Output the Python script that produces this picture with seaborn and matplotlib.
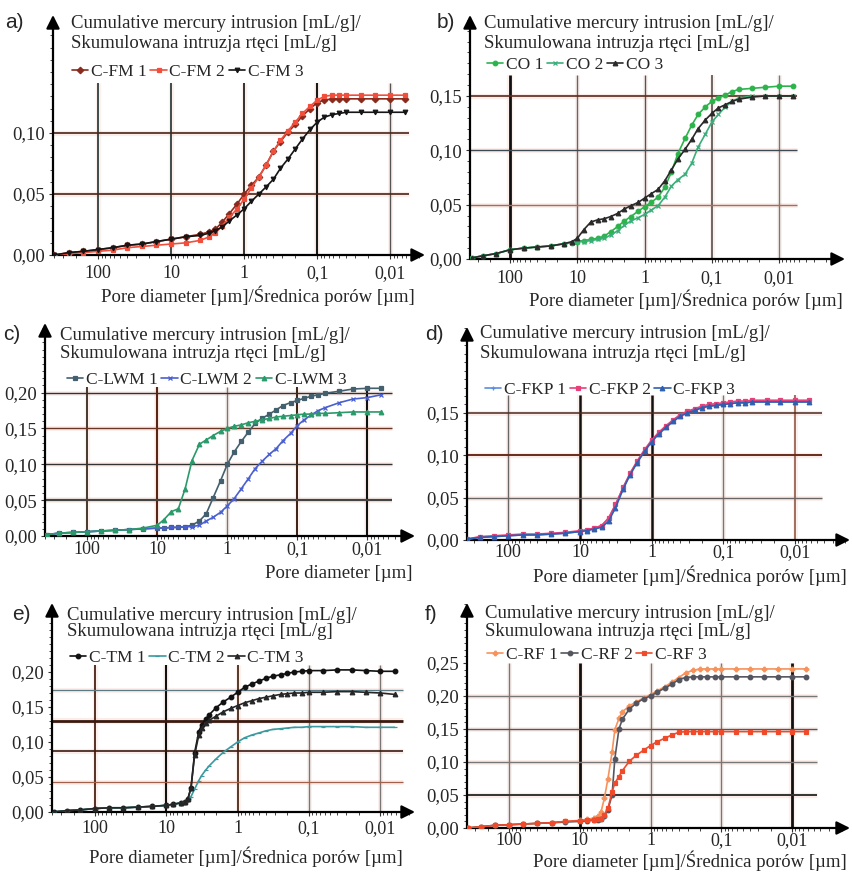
import matplotlib
matplotlib.use("Agg")
import matplotlib.pyplot as plt
import seaborn as sns
from matplotlib.ticker import LogLocator, NullFormatter, MultipleLocator

# ---- data (pore diameter in um, cumulative intrusion in mL/g) ----
d_a = [400, 250, 160, 100, 63, 40, 25, 16, 10, 6.3, 4, 3, 2.5, 2, 1.6, 1.25, 1, 0.8, 0.63, 0.5,
       0.4, 0.32, 0.25, 0.2, 0.16, 0.125, 0.1, 0.08, 0.063, 0.05, 0.04, 0.025, 0.016, 0.01, 0.0063]
fm1 = [0.000, 0.002, 0.003, 0.0045, 0.006, 0.008, 0.009, 0.011, 0.013, 0.015, 0.017, 0.019, 0.021, 0.027,
       0.034, 0.042, 0.050, 0.057, 0.064, 0.074, 0.085, 0.093, 0.101, 0.107, 0.114, 0.120, 0.125, 0.127,
       0.128, 0.128, 0.128, 0.128, 0.128, 0.128, 0.128]
fm2 = [0.000, 0.001, 0.002, 0.003, 0.004, 0.006, 0.007, 0.008, 0.009, 0.010, 0.012, 0.015, 0.018, 0.024,
       0.031, 0.038, 0.046, 0.055, 0.064, 0.074, 0.085, 0.094, 0.102, 0.109, 0.116, 0.122, 0.127, 0.130,
       0.131, 0.131, 0.131, 0.131, 0.131, 0.131, 0.131]
fm3 = [0.000, 0.002, 0.003, 0.0045, 0.006, 0.008, 0.009, 0.011, 0.013, 0.015, 0.016, 0.018, 0.020, 0.023,
       0.028, 0.033, 0.038, 0.044, 0.050, 0.056, 0.062, 0.071, 0.079, 0.087, 0.095, 0.103, 0.109, 0.113,
       0.115, 0.116, 0.117, 0.117, 0.117, 0.117, 0.117]

d_b = [370, 250, 160, 100, 63, 40, 25, 16, 12, 10, 8, 6.3, 5, 4, 3.2, 2.5, 2, 1.6, 1.25, 1, 0.8, 0.63,
       0.5, 0.4, 0.32, 0.25, 0.2, 0.16, 0.125, 0.1, 0.08, 0.063, 0.05, 0.04, 0.025, 0.016, 0.01, 0.0063]
co1 = [0.001, 0.003, 0.005, 0.0085, 0.010, 0.011, 0.012, 0.014, 0.015, 0.016, 0.017, 0.018, 0.019, 0.021,
       0.025, 0.030, 0.035, 0.039, 0.044, 0.048, 0.052, 0.057, 0.066, 0.080, 0.097, 0.111, 0.123, 0.133,
       0.140, 0.145, 0.148, 0.151, 0.154, 0.156, 0.157, 0.158, 0.159, 0.159]
co2 = [0.001, 0.003, 0.005, 0.0085, 0.010, 0.011, 0.012, 0.014, 0.015, 0.016, 0.016, 0.017, 0.018, 0.019,
       0.022, 0.026, 0.031, 0.035, 0.038, 0.041, 0.045, 0.049, 0.057, 0.067, 0.073, 0.078, 0.088, 0.103,
       0.115, 0.126, 0.133, 0.140, 0.145, 0.148, 0.150, 0.150, 0.150, 0.150]
co3 = [0.001, 0.003, 0.005, 0.0085, 0.010, 0.011, 0.012, 0.014, 0.016, 0.019, 0.027, 0.034, 0.036, 0.037,
       0.039, 0.042, 0.046, 0.049, 0.052, 0.056, 0.060, 0.064, 0.072, 0.082, 0.092, 0.101, 0.110, 0.120,
       0.128, 0.134, 0.139, 0.142, 0.145, 0.147, 0.149, 0.150, 0.150, 0.150]

d_c = [380, 250, 160, 100, 63, 40, 25, 16, 10, 8, 6.3, 5, 4, 3.2, 2.5, 2, 1.6, 1.25, 1, 0.8, 0.63, 0.5,
       0.4, 0.32, 0.25, 0.2, 0.16, 0.125, 0.1, 0.08, 0.063, 0.05, 0.04, 0.025, 0.016, 0.01, 0.0063]
lwm1 = [0.002, 0.004, 0.005, 0.006, 0.007, 0.008, 0.009, 0.010, 0.011, 0.011, 0.012, 0.012, 0.013, 0.015,
        0.021, 0.031, 0.053, 0.077, 0.100, 0.117, 0.132, 0.145, 0.157, 0.164, 0.170, 0.176, 0.182, 0.186,
        0.189, 0.192, 0.195, 0.197, 0.199, 0.202, 0.205, 0.206, 0.206]
lwm2 = [0.002, 0.004, 0.005, 0.006, 0.007, 0.008, 0.009, 0.010, 0.011, 0.011, 0.012, 0.012, 0.013, 0.013,
        0.015, 0.021, 0.026, 0.033, 0.042, 0.052, 0.066, 0.080, 0.094, 0.104, 0.114, 0.122, 0.133, 0.143,
        0.154, 0.162, 0.169, 0.175, 0.179, 0.186, 0.191, 0.193, 0.197]
lwm3 = [0.002, 0.004, 0.005, 0.006, 0.007, 0.008, 0.009, 0.011, 0.015, 0.023, 0.034, 0.038, 0.066, 0.105,
        0.128, 0.134, 0.140, 0.146, 0.150, 0.153, 0.155, 0.158, 0.160, 0.162, 0.164, 0.166, 0.167, 0.168,
        0.169, 0.170, 0.170, 0.171, 0.171, 0.172, 0.173, 0.173, 0.173]

d_d = d_c
fkp1 = [0.001, 0.003, 0.004, 0.005, 0.006, 0.006, 0.007, 0.008, 0.010, 0.012, 0.014, 0.017, 0.025, 0.041,
        0.062, 0.078, 0.092, 0.106, 0.117, 0.126, 0.134, 0.141, 0.147, 0.151, 0.154, 0.156, 0.158, 0.159,
        0.160, 0.161, 0.162, 0.162, 0.163, 0.163, 0.163, 0.163, 0.163]
fkp2 = [0.001, 0.004, 0.005, 0.006, 0.007, 0.007, 0.008, 0.009, 0.011, 0.012, 0.014, 0.017, 0.026, 0.042,
        0.062, 0.079, 0.093, 0.107, 0.118, 0.127, 0.135, 0.142, 0.148, 0.152, 0.155, 0.158, 0.160, 0.161,
        0.162, 0.163, 0.164, 0.164, 0.165, 0.165, 0.165, 0.165, 0.165]
fkp3 = [0.001, 0.003, 0.004, 0.005, 0.006, 0.006, 0.007, 0.008, 0.010, 0.011, 0.013, 0.015, 0.022, 0.038,
        0.060, 0.077, 0.091, 0.105, 0.116, 0.125, 0.133, 0.140, 0.146, 0.150, 0.153, 0.156, 0.158, 0.159,
        0.160, 0.161, 0.162, 0.162, 0.163, 0.163, 0.163, 0.163, 0.163]

d_e = [380, 250, 160, 100, 63, 40, 25, 16, 10, 8, 6.3, 5.5, 5, 4.5, 4, 3.5, 3.2, 2.8, 2.5, 2, 1.6, 1.25,
       1, 0.8, 0.63, 0.5, 0.4, 0.32, 0.25, 0.2, 0.16, 0.125, 0.1, 0.063, 0.04, 0.025, 0.016, 0.01, 0.0063]
tm1 = [0.000, 0.002, 0.003, 0.005, 0.006, 0.006, 0.007, 0.008, 0.0095, 0.011, 0.013, 0.015, 0.018, 0.035,
       0.085, 0.115, 0.124, 0.133, 0.139, 0.149, 0.157, 0.164, 0.171, 0.178, 0.183, 0.187, 0.191, 0.194,
       0.196, 0.198, 0.200, 0.201, 0.202, 0.202, 0.203, 0.203, 0.202, 0.201, 0.201]
tm2 = [0.000, 0.002, 0.003, 0.005, 0.006, 0.006, 0.007, 0.008, 0.0095, 0.011, 0.013, 0.015, 0.017, 0.022,
       0.033, 0.045, 0.052, 0.060, 0.066, 0.076, 0.085, 0.093, 0.100, 0.106, 0.110, 0.113, 0.116, 0.118,
       0.119, 0.120, 0.121, 0.121, 0.122, 0.122, 0.122, 0.122, 0.121, 0.121, 0.121]
tm3 = [0.000, 0.002, 0.003, 0.005, 0.006, 0.006, 0.007, 0.008, 0.0095, 0.011, 0.013, 0.015, 0.018, 0.035,
       0.082, 0.110, 0.120, 0.127, 0.131, 0.137, 0.143, 0.148, 0.152, 0.156, 0.159, 0.162, 0.164, 0.166,
       0.168, 0.169, 0.170, 0.170, 0.171, 0.171, 0.172, 0.172, 0.171, 0.170, 0.168]

d_f = d_e
rf1 = [0.000, 0.002, 0.004, 0.005, 0.006, 0.007, 0.008, 0.010, 0.0115, 0.013, 0.015, 0.018, 0.025, 0.045,
       0.075, 0.115, 0.149, 0.166, 0.176, 0.185, 0.191, 0.197, 0.202, 0.208, 0.214, 0.221, 0.228, 0.235,
       0.239, 0.241, 0.241, 0.241, 0.241, 0.241, 0.241, 0.241, 0.241, 0.241, 0.241]
rf2 = [0.000, 0.002, 0.004, 0.005, 0.006, 0.007, 0.008, 0.009, 0.010, 0.011, 0.012, 0.012, 0.013, 0.018,
       0.028, 0.050, 0.105, 0.150, 0.165, 0.180, 0.189, 0.196, 0.200, 0.206, 0.212, 0.218, 0.225, 0.228,
       0.229, 0.229, 0.229, 0.229, 0.229, 0.229, 0.229, 0.229, 0.229, 0.229, 0.229]
rf3 = [0.000, 0.002, 0.004, 0.005, 0.006, 0.007, 0.008, 0.010, 0.011, 0.012, 0.012, 0.013, 0.013, 0.020,
       0.030, 0.055, 0.068, 0.078, 0.087, 0.101, 0.110, 0.118, 0.125, 0.131, 0.136, 0.141, 0.145, 0.146,
       0.146, 0.146, 0.146, 0.146, 0.146, 0.146, 0.146, 0.146, 0.146, 0.146, 0.146]

decades = [100, 10, 1, 0.1, 0.01]
decade_labels = ["100", "10", "1", "0,1", "0,01"]
ylab1 = "Cumulative mercury intrusion [mL/g]/"
ylab2 = "Skumulowana intruzja rtęci [mL/g]"
xlab_full = "Pore diameter [µm]/Średnica porów [µm]"
xlab_short = "Pore diameter [µm]"

sns.set_style("white")
plt.rcParams["font.family"] = ["Liberation Serif", "DejaVu Serif"]

W, H = 853, 873
fig = plt.figure(figsize=(W / 100, H / 100), dpi=100)


def px_axes(x0, y0, x1, y1, x100, dec, ppu):
    ax = fig.add_axes([x0 / W, 1 - y0 / H, (x1 - x0) / W, (y0 - y1) / H])
    ax.set_xscale("log")
    ax.set_xlim(10 ** (2 + (x100 - x0) / dec), 10 ** (2 - (x1 - x100) / dec))
    ax.set_ylim(0, (y0 - y1) / ppu)
    ax.patch.set_alpha(0)
    for s in ax.spines.values():
        s.set_visible(False)
    arrow = dict(arrowstyle="-|>", color="k", lw=1.6, mutation_scale=20, shrinkA=0, shrinkB=0)
    ax.annotate("", xy=(1, 0), xytext=(0, 0), xycoords="axes fraction", arrowprops=arrow)
    ax.annotate("", xy=(0, 1), xytext=(0, 0), xycoords="axes fraction", arrowprops=arrow)
    return ax


def panel(ax, d, series, names, colors, markers, yticks, vgrid, hgrid, grid_end, vtop, xpad):
    x_left = ax.get_xlim()[0]
    for (v, c, lw) in vgrid:
        ax.vlines(v, 0, vtop, color="#f3b9a8", lw=lw + 2.5, alpha=0.2, zorder=1)
        ax.vlines(v, 0, vtop, color=c, lw=lw, zorder=1.5)
    for (v, c, lw) in hgrid:
        ax.hlines(v, x_left, grid_end, color="#f3b9a8", lw=lw + 2.5, alpha=0.25, zorder=1)
        ax.hlines(v, x_left, grid_end, color=c, lw=lw, zorder=1.5)
    for vals, name, c, m in zip(series, names, colors, markers):
        sns.lineplot(x=d, y=vals, ax=ax, color=c, marker=m, markersize=3.3, linewidth=1.2,
                     markeredgecolor=c, markeredgewidth=0.9, label=name, zorder=3)
    ax.set_xticks(decades)
    ax.set_xticklabels(decade_labels)
    ax.xaxis.set_minor_locator(LogLocator(base=10, subs=range(2, 10), numticks=20))
    ax.xaxis.set_minor_formatter(NullFormatter())
    ax.set_yticks(yticks)
    ax.set_yticklabels([f"{t:.2f}".replace(".", ",") for t in yticks])
    ax.yaxis.set_minor_locator(MultipleLocator(0.01))
    ax.tick_params(axis="both", which="major", length=3, width=0.8, color="#333")
    ax.tick_params(axis="both", which="minor", length=2.5, width=0.7, color="#444")
    ax.tick_params(axis="x", which="both", bottom=True, pad=xpad, labelsize=13)
    ax.tick_params(axis="y", which="both", left=True, pad=3, labelsize=13.5)
    ax.set_xlabel("")
    ax.set_ylabel("")


def legend(ax, x, y):
    ax.legend(loc="center left", bbox_to_anchor=(x / W, 1 - y / H), bbox_transform=fig.transFigure,
              ncol=3, frameon=False, fontsize=12.5, handlelength=0.95, handletextpad=0.15,
              columnspacing=0.2, borderaxespad=0, borderpad=0)


def texts(letter, lx, ly, tx, ty1, ty2, xlab, xx, xy):
    fig.text(lx / W, 1 - ly / H, letter, family="Liberation Sans", fontsize=15, va="center")
    fig.text(tx / W, 1 - ty1 / H, ylab1, fontsize=13.5, va="center")
    fig.text(tx / W, 1 - ty2 / H, ylab2, fontsize=13.5, va="center")
    fig.text(xx / W, 1 - xy / H, xlab, fontsize=13.5, va="center", ha="center")


# a)
ax = px_axes(53, 255, 425, 15, 98.3, 73, 1220)
panel(ax, d_a, [fm1, fm2, fm3], ["C-FM 1", "C-FM 2", "C-FM 3"], ["#8a2a1c", "#f24e3c", "#151515"],
      ["D", "s", "v"], [0, 0.05, 0.10],
      [(100, "#2f4040", 1.3), (10, "#2f4040", 1.3), (1, "#222222", 1.3), (0.1, "#1a1a1a", 1.5), (0.01, "#555555", 1.0)],
      [(0.05, "#4a2418", 1.2), (0.10, "#4a2418", 1.2)], 0.0055, 0.141, 4)
legend(ax, 72, 72)
texts("a)", 5, 23, 71, 23, 43, xlab_full, 258, 296)

# b)
ax = px_axes(470, 259, 845, 15, 510, 67.3, 1087)
panel(ax, d_b, [co1, co2, co3], ["CO 1", "CO 2", "CO 3"], ["#2db34c", "#3aae78", "#2a2a2a"],
      ["o", "x", "^"], [0, 0.05, 0.10, 0.15],
      [(100, "#111111", 2.0), (10, "#666666", 1.0), (1, "#555555", 1.0), (0.1, "#444444", 1.1), (0.01, "#777777", 1.0)],
      [(0.05, "#a0705f", 1.0), (0.10, "#3b4a55", 1.0), (0.15, "#5a2a1e", 1.2)], 0.0055, 0.169, 5)
legend(ax, 487, 65)
texts("b)", 437, 23, 484, 23, 43, xlab_full, 686, 300)

# c)
ax = px_axes(45, 536, 415, 323, 87.3, 70, 717)
panel(ax, d_c, [lwm1, lwm2, lwm3], ["C-LWM 1", "C-LWM 2", "C-LWM 3"], ["#44606e", "#4a5fd0", "#2a9a6a"],
      ["s", "x", "^"], [0, 0.05, 0.10, 0.15, 0.20],
      [(100, "#3a2a20", 1.3), (10, "#5a2515", 1.5), (1, "#777777", 1.0), (0.1, "#3a2015", 1.4), (0.01, "#111111", 1.5)],
      [(0.05, "#444444", 1.6), (0.10, "#333333", 1.0), (0.15, "#6a3525", 1.0), (0.20, "#333333", 1.0)], 0.0045, 0.208, 0.5)
legend(ax, 67, 380)
texts("c)", 3, 335, 60, 335, 353, xlab_short, 339, 573)

# d)
ax = px_axes(467, 540, 850, 327, 508.3, 71.7, 847)
panel(ax, d_d, [fkp1, fkp2, fkp3], ["C-FKP 1", "C-FKP 2", "C-FKP 3"], ["#5a8ee0", "#e8407a", "#2f5faf"],
      ["+", "s", "^"], [0, 0.05, 0.10, 0.15],
      [(100, "#666666", 1.0), (10, "#111111", 1.8), (1, "#111111", 1.8), (0.1, "#777777", 1.0), (0.01, "#8a4a35", 1.1)],
      [(0.05, "#666666", 1.0), (0.10, "#6a2a1a", 1.4), (0.15, "#4a2a20", 1.1)], 0.0042, 0.171, 0)
legend(ax, 485, 390)
texts("d)", 425, 335, 480, 333, 353, xlab_full, 690, 576)

# e)
ax = px_axes(52, 812, 415, 603, 95, 71.3, 700)
panel(ax, d_e, [tm1, tm2, tm3], ["C-TM 1", "C-TM 2", "C-TM 3"], ["#111111", "#3a9aa0", "#262626"],
      ["o", "_", "^"], [0, 0.05, 0.10, 0.15, 0.20],
      [(100, "#4a2015", 1.3), (10, "#111111", 1.5), (1, "#4a2a1a", 1.3), (0.1, "#777777", 1.0), (0.01, "#777777", 1.0)],
      [(0.043, "#a0604a", 0.9), (0.087, "#3a1a10", 1.2), (0.130, "#3a1a10", 2.0), (0.174, "#5a7a85", 0.9)], 0.0048, 0.21, 3)
legend(ax, 70, 658)
texts("e)", 12, 615, 67, 615, 632, xlab_full, 246, 857)

# f)
ax = px_axes(467, 828, 850, 603, 509, 70.8, 660)
panel(ax, d_f, [rf1, rf2, rf3], ["C-RF 1", "C-RF 2", "C-RF 3"], ["#f7925c", "#55555f", "#f04a2a"],
      ["P", "o", "s"], [0, 0.05, 0.10, 0.15, 0.20, 0.25],
      [(100, "#777777", 1.0), (10, "#111111", 2.0), (1, "#777777", 1.0), (0.1, "#777777", 1.0), (0.01, "#111111", 2.0)],
      [(0.05, "#333333", 1.4), (0.10, "#777777", 1.0), (0.15, "#555555", 1.0), (0.20, "#777777", 1.0)], 0.0045, 0.25, 0)
legend(ax, 487, 655)
texts("f)", 425, 615, 485, 613, 632, xlab_full, 690, 861)

fig.savefig("out.png", dpi=100)
